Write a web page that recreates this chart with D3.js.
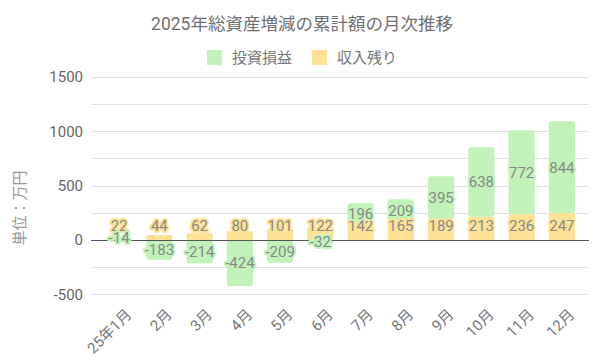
<!DOCTYPE html>
<html>
<head>
<meta charset="utf-8">
<script src="https://cdn.jsdelivr.net/npm/d3@7"></script>
<style>
body { margin: 0; background: #fff; }
text { font-family: Roboto, "Noto Sans CJK JP", sans-serif; }
</style>
</head>
<body>
<script>
var months = ["25年1月", "2月", "3月", "4月", "5月", "6月", "7月", "8月", "9月", "10月", "11月", "12月"];
var income = [22, 44, 62, 80, 101, 122, 142, 165, 189, 213, 236, 247];
var invest = [-14, -183, -214, -424, -209, -32, 196, 209, 395, 638, 772, 844];
var gridTicks = [-500, -250, 0, 250, 500, 750, 1000, 1250, 1500];
var labelTicks = [-500, 0, 500, 1000, 1500];

var green = "#c2f2b9", yellow = "#fde296";

var svg = d3.select("body").append("svg")
  .attr("width", 601)
  .attr("height", 361);

var x = d3.scaleBand()
  .domain(months)
  .range([99, 582])
  .paddingInner(0.35)
  .paddingOuter(0.175);

var y = d3.scaleLinear()
  .domain([-500, 1500])
  .range([294.3, 76.7]);

// title
svg.append("text")
  .attr("x", 302).attr("y", 30)
  .attr("text-anchor", "middle")
  .attr("font-size", 17.5)
  .attr("fill", "#707070")
  .text("2025年総資産増減の累計額の月次推移");

// legend
var legend = [["投資損益", green, 207], ["収入残り", yellow, 312]];
legend.forEach(function(l) {
  svg.append("rect").attr("x", l[2]).attr("y", 50).attr("width", 15).attr("height", 15).attr("fill", l[1]);
  svg.append("text").attr("x", l[2] + 25).attr("y", 63)
    .attr("font-size", 15).attr("fill", "#777").text(l[0]);
});

// grid
svg.append("g").selectAll("line")
  .data(gridTicks)
  .enter().append("line")
  .attr("x1", 91).attr("x2", 589)
  .attr("y1", function(d) { return Math.round(y(d)) + 0.5; })
  .attr("y2", function(d) { return Math.round(y(d)) + 0.5; })
  .attr("stroke", "#e0e0e0");

svg.append("g").selectAll("text")
  .data(labelTicks)
  .enter().append("text")
  .attr("x", 83)
  .attr("y", function(d) { return y(d); })
  .attr("dy", "0.36em")
  .attr("text-anchor", "end")
  .attr("font-size", 15)
  .attr("fill", "#666")
  .text(function(d) { return d; });

svg.append("text")
  .attr("transform", "translate(25,208) rotate(-90)")
  .attr("text-anchor", "middle")
  .attr("font-size", 15)
  .attr("fill", "#999")
  .text("単位：万円");

// bars
function seg(i, which) {
  if (which == "income") return [0, income[i]];
  if (invest[i] < 0) return [invest[i], 0];
  return [income[i], income[i] + invest[i]];
}

["income", "invest"].forEach(function(key) {
  svg.append("g").selectAll("rect")
    .data(months)
    .enter().append("rect")
    .attr("x", function(d) { return x(d); })
    .attr("width", x.bandwidth())
    .attr("y", function(d, i) { return y(seg(i, key)[1]); })
    .attr("height", function(d, i) { var s = seg(i, key); return y(s[0]) - y(s[1]); })
    .attr("rx", key == "invest" ? 3 : 1.5)
    .attr("fill", key == "income" ? yellow : green);
});

// zero line
svg.append("line")
  .attr("x1", 91).attr("x2", 589)
  .attr("y1", Math.round(y(0)) + 0.5).attr("y2", Math.round(y(0)) + 0.5)
  .attr("stroke", "#555");

// data labels
svg.append("g").selectAll("text")
  .data(months)
  .enter().append("text")
  .attr("x", function(d) { return x(d) + x.bandwidth() / 2; })
  .attr("y", y(0) - 14)
  .attr("dy", "0.36em")
  .attr("text-anchor", "middle")
  .attr("font-size", 15)
  .attr("fill", "#888")
  .attr("stroke", yellow).attr("stroke-width", 4).attr("stroke-linejoin", "round")
  .attr("paint-order", "stroke")
  .text(function(d, i) { return income[i]; });

svg.append("g").selectAll("text")
  .data(months)
  .enter().append("text")
  .attr("x", function(d) { return x(d) + x.bandwidth() / 2; })
  .attr("y", function(d, i) { var s = seg(i, "invest"); return y((s[0] + s[1]) / 2) - (invest[i] > -30 && invest[i] < 0 ? 3 : 0); })
  .attr("dy", "0.36em")
  .attr("text-anchor", "middle")
  .attr("font-size", 15)
  .attr("fill", "#888")
  .attr("stroke", green).attr("stroke-width", 4).attr("stroke-linejoin", "round")
  .attr("paint-order", "stroke")
  .text(function(d, i) { return invest[i]; });

// x labels
svg.append("g").selectAll("text")
  .data(months)
  .enter().append("text")
  .attr("transform", function(d) { return "translate(" + (x(d) + x.bandwidth() / 2 + 6) + ",308) rotate(-45)"; })
  .attr("text-anchor", "end")
  .attr("dy", "0.7em")
  .attr("font-size", 15)
  .attr("fill", "#777")
  .text(function(d) { return d; });
</script>
</body>
</html>
